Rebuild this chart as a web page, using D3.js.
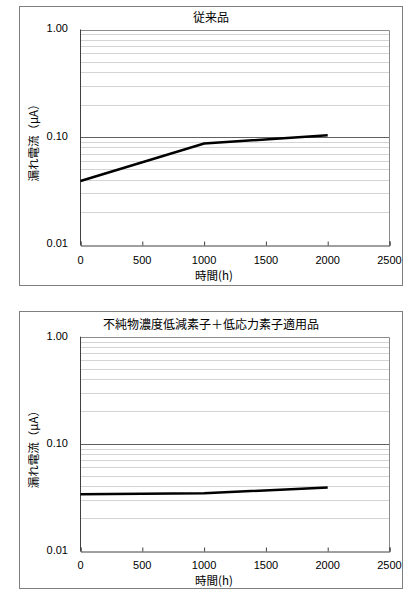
<!DOCTYPE html>
<html>
<head>
<meta charset="utf-8">
<script src="https://cdn.jsdelivr.net/npm/d3@7"></script>
<style>
  body { margin: 0; background: #fff; }
  text { font-family: "Liberation Sans", Arial, "Noto Sans CJK JP", sans-serif; fill: #000; }
  text.jp { font-family: "Noto Sans CJK JP", sans-serif; }
</style>
</head>
<body>
<div id="chart"></div>
<script>
// data
var hours = [0, 1000, 2000];
var leakOld = [0.039, 0.087, 0.104];
var leakNew = [0.0337, 0.0344, 0.039];
var titles = ["従来品", "不純物濃度低減素子＋低応力素子適用品"];
var xTicks = [0, 500, 1000, 1500, 2000, 2500];
var yTicks = [0.01, 0.1, 1];
var yTickLabels = ["0.01", "0.10", "1.00"];

var W = 416, H = 595;

var svg = d3.select("#chart")
    .append("svg")
      .attr("width", W)
      .attr("height", H);

var panels = [
  {top: 6, frameH: 279, plotTop: 29.5, plotBottom: 244.5, title: titles[0], values: leakOld, xLabY: 261, xTitleY: 277},
  {top: 311, frameH: 277, plotTop: 336.7, plotBottom: 550.7, title: titles[1], values: leakNew, xLabY: 566.5, xTitleY: 581.5}
];

panels.forEach(function(p) {
  var left = 80.5, right = 389.5;

  var x = d3.scaleLinear().domain([0, 2500]).range([left, right]);
  var y = d3.scaleLog().domain([0.01, 1]).range([p.plotBottom, p.plotTop]);

  var g = svg.append("g");

  // outer frame
  g.append("rect")
      .attr("x", 19.5).attr("y", p.top + 0.5)
      .attr("width", 383).attr("height", p.frameH)
      .attr("fill", "none")
      .attr("stroke", "#7f7f7f");

  // minor grid
  var minors = [];
  [0.01, 0.1].forEach(function(d) {
    for (var k = 2; k <= 9; k++) minors.push(d * k);
  });
  g.append("g").selectAll("line")
    .data(minors)
    .enter().append("line")
      .attr("x1", left).attr("x2", right)
      .attr("y1", function(d) { return Math.round(y(d)) + 0.5; })
      .attr("y2", function(d) { return Math.round(y(d)) + 0.5; })
      .attr("stroke", "#d4d4d4");

  // major grid
  g.append("line")
      .attr("x1", left).attr("x2", right)
      .attr("y1", Math.round(y(0.1)) + 0.5).attr("y2", Math.round(y(0.1)) + 0.5)
      .attr("stroke", "#606060");

  // plot border top / right
  g.append("path")
      .attr("d", "M" + left + "," + (Math.round(p.plotTop) + 0.5) + "H" + right + "V" + p.plotBottom)
      .attr("fill", "none")
      .attr("stroke", "#8c8c8c");

  // x axis with inside ticks
  var xAxis = g.append("g")
      .attr("transform", "translate(0," + (Math.round(p.plotBottom) + 0.5) + ")")
      .call(d3.axisBottom(x).tickValues(xTicks).tickSize(-4).tickFormat(""));
  xAxis.select(".domain").attr("stroke", "#404040");
  xAxis.selectAll(".tick line").attr("stroke", "#404040");

  // y axis line
  g.append("line")
      .attr("x1", left).attr("x2", left)
      .attr("y1", p.plotTop).attr("y2", p.plotBottom)
      .attr("stroke", "#404040");

  // tick labels
  g.append("g").selectAll("text")
    .data(xTicks)
    .enter().append("text")
      .attr("x", function(d) { return x(d); })
      .attr("y", p.xLabY)
      .attr("text-anchor", "middle")
      .attr("dominant-baseline", "middle")
      .attr("font-size", 11)
      .text(function(d) { return d; });

  g.append("g").selectAll("text")
    .data(yTicks)
    .enter().append("text")
      .attr("x", 68)
      .attr("y", function(d) { return y(d); })
      .attr("text-anchor", "end")
      .attr("dominant-baseline", "middle")
      .attr("font-size", 11)
      .text(function(d, i) { return yTickLabels[i]; });

  // titles
  g.append("text")
      .attr("class", "jp")
      .attr("x", 211).attr("y", p.plotTop - 8)
      .attr("text-anchor", "middle")
      .attr("font-size", 12)
      .text(p.title);

  g.append("text")
      .attr("class", "jp")
      .attr("x", 214).attr("y", p.xTitleY)
      .attr("text-anchor", "middle")
      .attr("dominant-baseline", "middle")
      .attr("font-size", 11.5)
      .text("時間(h)");

  g.append("text")
      .attr("class", "jp")
      .attr("transform", "translate(35," + (y(0.1) + 3) + ") rotate(-90)")
      .attr("text-anchor", "middle")
      .attr("dominant-baseline", "middle")
      .attr("font-size", 11.5)
      .text("漏れ電流（μA）");

  // series line
  var line = d3.line()
      .x(function(d, i) { return x(hours[i]); })
      .y(function(d) { return y(d); });

  g.append("path")
      .datum(p.values)
      .attr("d", line)
      .attr("fill", "none")
      .attr("stroke", "#000")
      .attr("stroke-width", 2.5);
});
</script>
</body>
</html>
